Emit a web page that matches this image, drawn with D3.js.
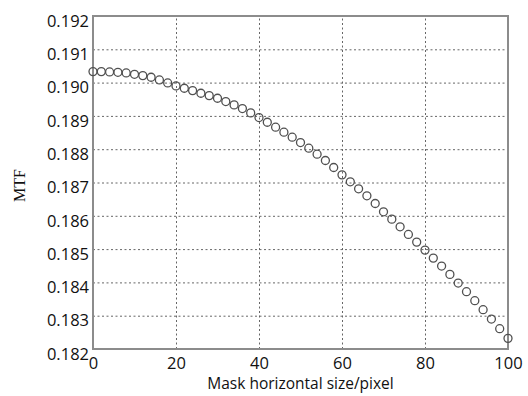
<!DOCTYPE html>
<html>
<head>
<meta charset="utf-8">
<script src="https://cdn.jsdelivr.net/npm/d3@7"></script>
<style>
  body { margin: 0; background: #fff; }
  .tick text { font-family: "Open Sans", sans-serif; font-size: 16.5px; fill: #111; }
  .grid line { stroke: #666; stroke-dasharray: 2,2.5; stroke-width: 1; }
  .grid path { display: none; }
</style>
</head>
<body>
<script>
// mask horizontal size (pixel), step 2
const sizes = d3.range(0, 101, 2)
// MTF values
const mtf = [
  0.19033, 0.19033, 0.19032, 0.19031, 0.19029, 0.19025, 0.19021, 0.19016, 0.19008, 0.18999,
  0.18990, 0.18983, 0.18976, 0.18968, 0.18961, 0.18953, 0.18943, 0.18933, 0.18922, 0.18909,
  0.18895, 0.18881, 0.18866, 0.18851, 0.18836, 0.18820, 0.18803, 0.18785, 0.18766, 0.18745,
  0.18723, 0.18702, 0.18681, 0.18660, 0.18637, 0.18612, 0.18590, 0.18567, 0.18544, 0.18521,
  0.18497, 0.18473, 0.18449, 0.18424, 0.18398, 0.18372, 0.18345, 0.18318, 0.18290, 0.18261,
  0.18232
]
const xTicks = [0, 20, 40, 60, 80, 100]
const yTicks = [0.182, 0.183, 0.184, 0.185, 0.186, 0.187, 0.188, 0.189, 0.190, 0.191, 0.192]

const W = 528, H = 396
const margin = {left: 93, right: 20, top: 16, bottom: 47}

let svg = d3.select("body").append("svg")
    .attr("width", W)
    .attr("height", H)

let x = d3.scaleLinear().domain([0, 100]).range([margin.left, W - margin.right])
let y = d3.scaleLinear().domain([0.182, 0.192]).range([H - margin.bottom, margin.top])

// grid
svg.append("g")
    .attr("class", "grid")
    .attr("transform", `translate(0,${H - margin.bottom})`)
    .call(d3.axisBottom(x).tickValues(xTicks).tickSize(-(H - margin.bottom - margin.top)).tickFormat(""))
svg.append("g")
    .attr("class", "grid")
    .attr("transform", `translate(${margin.left},0)`)
    .call(d3.axisLeft(y).tickValues(yTicks).tickSize(-(W - margin.right - margin.left)).tickFormat(""))

// axes labels
let xAxis = svg.append("g")
    .attr("transform", `translate(0,${H - margin.bottom})`)
    .call(d3.axisBottom(x).tickValues(xTicks).tickSize(0).tickPadding(8))
xAxis.select(".domain").remove()

let yAxis = svg.append("g")
    .attr("transform", `translate(${margin.left},0)`)
    .call(d3.axisLeft(y).tickValues(yTicks).tickFormat(d3.format(".3f")).tickSize(0).tickPadding(4))
yAxis.select(".domain").remove()
yAxis.selectAll("text").attr("dy", "0.62em")

// frame
svg.append("rect")
    .attr("x", margin.left)
    .attr("y", margin.top)
    .attr("width", W - margin.right - margin.left)
    .attr("height", H - margin.bottom - margin.top)
    .attr("fill", "none")
    .attr("stroke", "#8c8c8c")
    .attr("stroke-width", 2)

// markers
svg.selectAll("circle.pt")
    .data(sizes)
    .enter()
    .append("circle")
    .attr("class", "pt")
    .attr("cx", d => x(d))
    .attr("cy", (d, i) => y(mtf[i]))
    .attr("r", 4)
    .attr("fill", "none")
    .attr("stroke", "#505050")
    .attr("stroke-width", 1.3)

// titles
svg.append("text")
    .attr("x", (margin.left + W - margin.right) / 2)
    .attr("y", 389)
    .attr("text-anchor", "middle")
    .attr("font-family", "Open Sans, sans-serif")
    .attr("font-size", 15.5)
    .attr("fill", "#111")
    .text("Mask horizontal size/pixel")

svg.append("text")
    .attr("transform", `translate(25,${(margin.top + H - margin.bottom) / 2 + 3}) rotate(-90)`)
    .attr("text-anchor", "middle")
    .attr("font-family", "Liberation Serif, serif")
    .attr("font-size", 16)
    .attr("fill", "#111")
    .text("MTF")
</script>
</body>
</html>
